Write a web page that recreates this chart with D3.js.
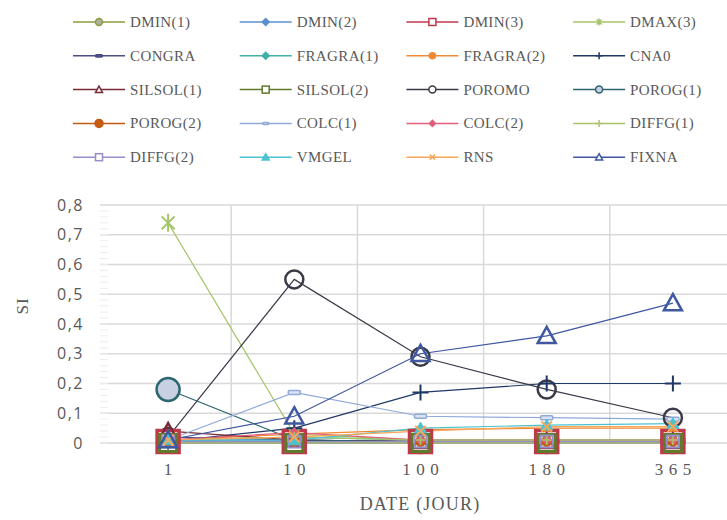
<!DOCTYPE html>
<html><head><meta charset="utf-8">
<script src="https://cdn.jsdelivr.net/npm/d3@7/dist/d3.min.js"></script>
<style>
body{margin:0;background:#fff;}
text{font-family:"Liberation Serif","DejaVu Serif",serif;fill:#595959;}
</style></head>
<body><svg id="c" width="727" height="520"></svg>
<script>
const categories = ["1","10","100","180","365"];
const yTicks = [0,0.1,0.2,0.3,0.4,0.5,0.6,0.7,0.8];
const seriesNames = ["DMIN(1)","DMIN(2)","DMIN(3)","DMAX(3)","CONGRA","FRAGRA(1)","FRAGRA(2)","CNA0","SILSOL(1)","SILSOL(2)","POROMO","POROG(1)","POROG(2)","COLC(1)","COLC(2)","DIFFG(1)","DIFFG(2)","VMGEL","RNS","FIXNA"];
const dmin1   = [0.010, 0.005, 0.005, 0.005, 0.005];
const dmin2   = [0.010, 0.010, 0.005, 0.005, 0.005];
const dmin3   = [0.005, 0.005, 0.005, 0.005, 0.005];
const dmax3   = [0.740, 0.030, 0.010, 0.010, 0.010];
const congra  = [0.020, 0.010, 0.005, 0.005, 0.005];
const fragra1 = [0.010, 0.020, 0.010, 0.010, 0.010];
const fragra2 = [0.010, 0.030, 0.045, 0.050, 0.050];
const cna0    = [0.005, 0.050, 0.170, 0.200, 0.200];
const silsol1 = [0.040, 0.010, 0.005, 0.005, 0.005];
const silsol2 = [0.000, 0.000, 0.000, 0.000, 0.000];
const poromo  = [0.020, 0.550, 0.290, 0.180, 0.085];
const porog1  = [0.180, 0.010, 0.005, 0.005, 0.005];
const porog2  = [0.005, 0.005, 0.005, 0.005, 0.005];
const colc1   = [0.010, 0.170, 0.090, 0.085, 0.080];
const colc2   = [0.010, 0.035, 0.010, 0.010, 0.010];
const diffg1  = [0.010, 0.020, 0.010, 0.010, 0.010];
const diffg2  = [0.005, 0.005, 0.005, 0.005, 0.005];
const vmgel   = [0.010, 0.010, 0.050, 0.060, 0.065];
const rns     = [0.010, 0.020, 0.040, 0.055, 0.055];
const fixna   = [0.010, 0.090, 0.300, 0.360, 0.470];
const seriesValues = [dmin1,dmin2,dmin3,dmax3,congra,fragra1,fragra2,cna0,silsol1,silsol2,poromo,porog1,porog2,colc1,colc2,diffg1,diffg2,vmgel,rns,fixna];

// styles
const colors = ["#8E9B3C","#5B8FD0","#C0394B","#A6C46A","#4A4F86","#3FB0A8","#F08A32","#1F3864","#7A2A35","#5E7A2A","#3A3A48","#2E6670","#C55A11","#8FA9D8","#E0607A","#A9C46C","#9A8CC8","#4BC3CF","#F9A65A","#3F58A0"];
const markers = ["circle","diamond","square","star","dash","diamond","circle","plus","triangle","square","circle","circle","circle","dash","diamond","plus","square","triangle","x","triangle"];
const msize   = [12,14,22,18,12,10,8,16,16,17,18,23,10,12,10,10,12,12,14,18];
const lsize   = [7,7,7,7,7,7,6,7,7,7,7,7,8,6,6,7,7,7,7,7];
const mfill   = ["#b0b0a0","#5B8FD0","#ffffff","none","#4A4F86","#3FB0A8","#F08A32","none","none","none","none","#c8d0e4","#C55A11","#dde3f2","#E0607A","none","none","#4BC3CF","none","none"];
const mstroke = [2,1.5,3.5,2,1,1,1,2,2.5,3,2.5,2.5,1,1.5,1,1.5,2,1,2,2.5];
const markerOrder = [11,10,0,1,2,3,4,5,6,7,8,9,12,13,14,15,16,17,18,19];

const svg = d3.select("#c");
const x = d3.scaleBand().domain(categories).range([105, 736]).padding(0);
const y = d3.scaleLinear().domain([0, 0.8]).range([443, 205]);
const cx = c => x(c) + x.bandwidth()/2;

// grid
const grid = svg.append("g");
grid.selectAll("line.h").data(yTicks).join("line")
  .attr("x1", 100).attr("x2", 736).attr("y1", d=>y(d)).attr("y2", d=>y(d))
  .attr("stroke", "#d9d9d9").attr("stroke-width", 1.5);
grid.selectAll("line.v").data(categories.slice(1)).join("line")
  .attr("x1", d=>x(d)).attr("x2", d=>x(d)).attr("y1", y(0.8)).attr("y2", y(0))
  .attr("stroke", "#d9d9d9").attr("stroke-width", 1.5);
const minor = d3.range(0, 0.8, 0.02);
grid.selectAll("line.m").data(minor).join("line")
  .attr("x1", 100).attr("x2", 108).attr("y1", d=>y(d)).attr("y2", d=>y(d))
  .attr("stroke", "#ececec").attr("stroke-width", 1);

// axes
const yAxis = d3.axisLeft(y).tickValues(yTicks).tickSize(0).tickPadding(0)
  .tickFormat(d => d === 0 ? "0" : d3.format(".1f")(d).replace(".", ","));
const ya = svg.append("g").attr("transform", "translate(84,0)").call(yAxis);
ya.select(".domain").remove();
ya.selectAll("text").attr("font-size", 16).attr("fill", "#595959").attr("letter-spacing", "1.5px")
  .style("font-family", '"Open Sans",sans-serif');

const xAxis = d3.axisBottom(x).tickSize(0).tickPadding(0);
const xa = svg.append("g").attr("transform", "translate(0,463)").call(xAxis);
xa.select(".domain").remove();
xa.selectAll("text").attr("font-size", 17).attr("fill", "#595959")
  .attr("letter-spacing", "5.5px").attr("dx", "2.75px")
  .style("font-family", '"Liberation Serif",serif');

svg.append("text").attr("x", 420).attr("y", 510).attr("text-anchor", "middle")
  .attr("font-size", 18).attr("letter-spacing", "1.2px").text("DATE (JOUR)");
svg.append("text").attr("transform", "translate(28,306) rotate(-90)").attr("text-anchor", "middle")
  .attr("font-size", 17).attr("letter-spacing", "1px").text("SI");

function drawMarker(g, type, s, color, fill, sw) {
  const h = s/2;
  if (type === "circle") {
    g.append("circle").attr("r", h).attr("fill", fill).attr("stroke", color).attr("stroke-width", sw);
  } else if (type === "square") {
    g.append("rect").attr("x", -h).attr("y", -h).attr("width", s).attr("height", s)
      .attr("fill", fill).attr("stroke", color).attr("stroke-width", sw);
  } else if (type === "diamond") {
    g.append("path").attr("d", `M0,${-h}L${h},0L0,${h}L${-h},0Z`)
      .attr("fill", fill).attr("stroke", color).attr("stroke-width", sw);
  } else if (type === "triangle") {
    g.append("path").attr("d", `M0,${-h}L${h},${h*0.8}L${-h},${h*0.8}Z`)
      .attr("fill", fill).attr("stroke", color).attr("stroke-width", sw).attr("stroke-linejoin","miter");
  } else if (type === "dash") {
    g.append("rect").attr("x", -h).attr("y", -s/6).attr("width", s).attr("height", s/3).attr("rx", 1)
      .attr("fill", fill).attr("stroke", color).attr("stroke-width", sw);
  } else if (type === "plus") {
    g.append("path").attr("d", `M${-h},0H${h}M0,${-h}V${h}`).attr("stroke", color).attr("stroke-width", sw);
  } else if (type === "x") {
    const k = h*0.75;
    g.append("path").attr("d", `M${-k},${-k}L${k},${k}M${-k},${k}L${k},${-k}`).attr("stroke", color).attr("stroke-width", sw);
  } else if (type === "star") {
    const k = h*0.72;
    g.append("path").attr("d", `M${-k},${-k}L${k},${k}M${-k},${k}L${k},${-k}M0,${-h}V${h}`).attr("stroke", color).attr("stroke-width", sw);
  }
}

// series lines
const line = d3.line().x((d,i)=>cx(categories[i])).y(d=>y(d));
const linesG = svg.append("g");
seriesValues.forEach((vals, si) => {
  linesG.append("path").attr("d", line(vals)).attr("fill", "none")
    .attr("stroke", colors[si]).attr("stroke-width", 1.2);
});
// series markers
const marksG = svg.append("g");
markerOrder.forEach(si => {
  seriesValues[si].forEach((v, i) => {
    const mg = marksG.append("g").attr("transform", `translate(${cx(categories[i])},${y(v)})`);
    drawMarker(mg, markers[si], msize[si], colors[si], mfill[si], mstroke[si]);
  });
});

// legend
const leg = svg.append("g");
seriesNames.forEach((name, si) => {
  const col = si % 4, row = Math.floor(si / 4);
  const lx = 73 + col * 166.7, ly = 22 + row * 33.8;
  const g = leg.append("g").attr("transform", `translate(${lx},${ly})`);
  g.append("line").attr("x1", 0).attr("x2", 52).attr("stroke", colors[si]).attr("stroke-width", 1.5);
  const mg = g.append("g").attr("transform", "translate(26,0)");
  drawMarker(mg, markers[si], lsize[si], colors[si], (mfill[si]==="none"||mfill[si]==="#ffffff")?"#fff":mfill[si], 1.5);
  g.append("text").attr("x", 57).attr("y", 5).attr("font-size", 15).attr("letter-spacing", "0.4px").text(name);
});
</script></body></html>
